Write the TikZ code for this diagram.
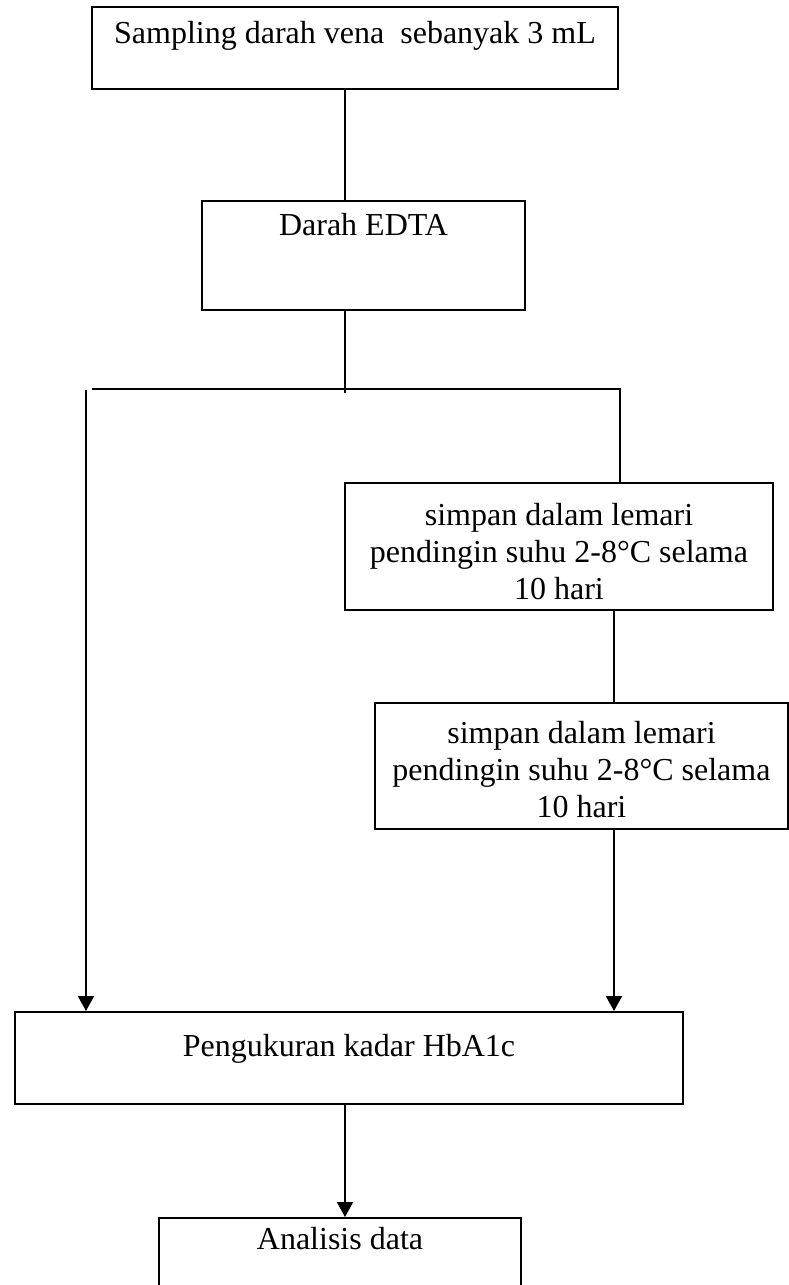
\documentclass[tikz,border=0pt]{standalone}
\usepackage{fontspec}
\setmainfont{Liberation Serif}
\usetikzlibrary{arrows.meta, calc, positioning}

\tikzset{
  flowbox/.style={draw, line width=2pt, inner sep=0pt, anchor=north west,
    font=\fontsize{32}{37}\selectfont},
  flowline/.style={line width=2pt},
  flowarrow/.style={line width=2pt, -{Triangle[length=15pt, width=16pt]}}
}

\begin{document}
\begin{tikzpicture}[x=1pt, y=-1pt]
\clip (0,0) rectangle (789,1285);
\fill[white] (0,0) rectangle (789,1285);
% boxes listed top to bottom
\node[flowbox, minimum width=526pt, text height=36pt, text depth=46pt] (sampling) at (91,6) {Sampling darah vena\ \ sebanyak 3 mL};
\node[flowbox, minimum width=323pt, text height=34pt, text depth=75pt] (edta) at (201,200) {Darah EDTA};
\node[flowbox, minimum width=428pt, minimum height=127pt, align=center] (simpanA) at (344,482) {\rule{0pt}{32pt}simpan dalam lemari\\pendingin suhu 2-8°C selama\\10 hari};
\node[flowbox, minimum width=413pt, minimum height=126pt, align=center] (simpanB) at (374,702) {\rule{0pt}{30pt}simpan dalam lemari\\pendingin suhu 2-8°C selama\\10 hari};
\node[flowbox, minimum width=668pt, text height=44pt, text depth=48pt] (ukur) at (14,1011) {Pengukuran kadar HbA1c};
\node[flowbox, minimum width=362pt, text height=31pt, text depth=100pt] (analisis) at (158,1217) {Analisis data};
%
\coordinate (axis) at (345,0);
\coordinate (split) at (345,389);
\coordinate (splitL) at (92,389);
\coordinate (splitR) at (620,389);
\coordinate (leftdrop) at (86,390);
\coordinate (rightx) at (614,0);
% connectors
\draw[flowline] (sampling.south -| axis) -- (edta.north -| axis);
\draw[flowline] (edta.south -| axis) -- ($(split)+(0,4)$);
\draw[flowline] (splitL) -- (splitR) -- (simpanA.north -| splitR);
\draw[flowline] (simpanA.south -| rightx) -- (simpanB.north -| rightx);
\draw[flowarrow] (leftdrop) -- (ukur.north -| leftdrop);
\draw[flowarrow] (simpanB.south -| rightx) -- (ukur.north -| rightx);
\draw[flowarrow] (ukur.south -| axis) -- (analisis.north -| axis);
\end{tikzpicture}
\end{document}
